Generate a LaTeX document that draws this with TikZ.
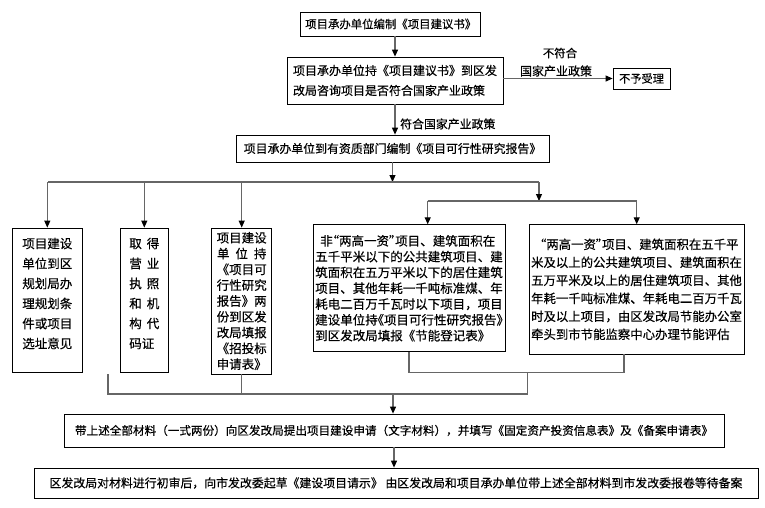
\documentclass[tikz,border=0pt]{standalone}
\usepackage{fontspec}
\setmainfont{Noto Sans CJK SC}[FakeBold=0.4]
\newfontfamily\halffont{Noto Sans CJK SC}[RawFeature=+halt, FakeBold=0.4]
\newcommand{\hw}[1]{{\halffont #1}}
\usetikzlibrary{arrows.meta}

\begin{document}
\begin{tikzpicture}[x=1pt, y=-1pt,
        card/.style={draw=black, line width=0.8pt, inner sep=0pt, align=center},
        link/.style={draw=black!60, line width=1.1pt},
        flow/.style={link, -{Triangle[length=7pt, width=6pt, color=black]}},
        note/.style={inner sep=0pt}]
    \useasboundingbox (0,0) rectangle (765,507);

        % 1. The boxes (Nodes)
        % Top column
        \node[card, minimum width=180pt, minimum height=24pt, font=\fontsize{11.4}{14}\selectfont] (Draft) at (390.7,24) {项目承办单位编制《项目建议书》};
        \node[card, align=left, minimum width=216pt, minimum height=47pt, font=\fontsize{12}{20}\selectfont] (Ask) at (395,80.5) {项目承办单位持《项目建议书》到区发\\改局咨询项目是否符合国家产业政策};
        \node[card, minimum width=57pt, minimum height=21pt, font=\fontsize{11.2}{14}\selectfont] (No) at (641.5,78.5) {不予受理};
        \node[card, minimum width=313pt, minimum height=27pt, font=\fontsize{11.9}{14}\selectfont] (Study) at (392.5,148.5) {项目承办单位到有资质部门编制《项目可行性研究报告》};

        % Middle row (the last empty line lifts the text a little)
        \node[card, minimum width=69.3pt, minimum height=144pt, font=\fontsize{12.5}{20}\selectfont] (Plan) at (47.3,300) {项目建设\\单位到区\\规划局办\\理规划条\\件或项目\\选址意见\\[-6pt]\mbox{}};
        \node[card, align=left, minimum width=47.3pt, minimum height=144pt, font=\fontsize{12.5}{20}\selectfont] (Lic) at (144.3,300) {取\hspace{5pt}得\\营\hspace{5pt}业\\执\hspace{5pt}照\\和\hspace{5pt}机\\构\hspace{5pt}代\\码证\\[-6pt]\mbox{}};
        \node[card, minimum width=60pt, minimum height=146pt, font=\fontsize{12.5}{15.8}\selectfont] (Bid) at (241.7,301) {项目建设\\单\hspace{6pt}位\hspace{6pt}持\\《项目可\\行性研究\\报告》两\\份到区发\\改局填报\\《招投标\\申请表》};
        \node[card, align=left, minimum width=192pt, minimum height=127pt, font=\fontsize{12.5}{15.8}\selectfont] (Low) at (409,288.2) {\hspace*{5pt}非\hw{“}两高一资\hw{”}项目、建筑面积在\\五千平米以下的公共建筑项目、建\\筑面积在五万平米以下的居住建筑\\项目、其他年耗一千吨标准煤、年\\耗电二百万千瓦时以下项目，项目\\建设单位持\hw{《}项目可行性研究报告\hw{》}\\到区发改局填报《节能登记表》};
        \node[card, align=left, minimum width=215pt, minimum height=129.3pt, font=\fontsize{12.4}{18}\selectfont] (High) at (636.5,289.3) {\hspace*{9pt}\hw{“}两高一资\hw{”}项目、建筑面积在五千平\\米及以上的公共建筑项目、建筑面积在\\五万平米及以上的居住建筑项目、其他\\年耗一千吨标准煤、年耗电二百万千瓦\\时及以上项目，由区发改局节能办公室\\牵头到市节能监察中心办理节能评估};

        % Bottom rows
        \node[card, minimum width=660pt, minimum height=33pt, font=\fontsize{11.6}{14}\selectfont] (Apply) at (394,430.5) {带上述全部材料（一式两份）向区发改局提出项目建设申请（文字材料），并填写《固定资产投资信息表》及《备案申请表》};
        \node[card, minimum width=724pt, minimum height=30pt, font=\fontsize{11.9}{14}\selectfont] (Rec) at (396,483) {区发改局对材料进行初审后，向市发改委起草《建设项目请示》 由区发改局和项目承办单位带上述全部材料到市发改委报卷等待备案};

        % Labels on the arrows
        \node[note, font=\fontsize{11.4}{14}\selectfont] (NoFitA) at (560,53) {不符合};
        \node[note, font=\fontsize{12}{14}\selectfont] (NoFitB) at (556,71) {国家产业政策};
        \node[note, anchor=west, font=\fontsize{11.9}{14}\selectfont] (Fit) at (400,124) {符合国家产业政策};

        % 2. The junction points
        \coordinate (busL) at (48,182);      % top bus, left end
        \coordinate (busR) at (539,182);     % top bus, right end
        \coordinate (splitL) at (427.7,201); % second bus, left end
        \coordinate (splitR) at (636.7,201); % second bus, right end
        \coordinate (tail) at (108,374);     % free leg on the left
        \coordinate (deR) at (624,372.7);    % leg under the right box
        \coordinate (deMid) at (527.7,372.7);
        \coordinate (merge) at (393,394);    % lower bus, above the arrow

        % 3. The connectors
        \draw[flow] (Draft.south -| Ask.north) -- (Ask.north);
        \draw[flow] (Ask.south) -- (Ask.south |- Study.north);
        \draw[flow] (No.west -| Ask.east) -- (No.west);
        \draw[flow] (Study.south) -- (Study.south |- busL);
        \draw[link] (busL) -- (busR);
        \foreach \b in {Plan, Lic, Bid}
            \draw[flow] (\b.north |- busL) -- (\b.north);
        \draw[flow] (busR) -- (busR |- splitL);
        \draw[link] (splitL) -- (splitR);
        \draw[flow] (splitL) -- (splitL |- Low.north);
        \draw[flow] (splitR) -- (splitR |- High.north);

        % the brackets that gather everything again
        \draw[link] (Low.south) -- (Low.south |- deR) -- (deR) -- (deR |- High.south);
        \draw[link] (deMid) -- (deMid |- merge);
        \draw[link] (tail) -- (tail |- merge) -- (merge -| deMid);
        \draw[link] (Bid.south) -- (Bid.south |- merge);
        \draw[flow] (merge) -- (merge |- Apply.north);
        \draw[flow] (Apply.south) -- (Apply.south |- Rec.north);

\end{tikzpicture}
\end{document}
